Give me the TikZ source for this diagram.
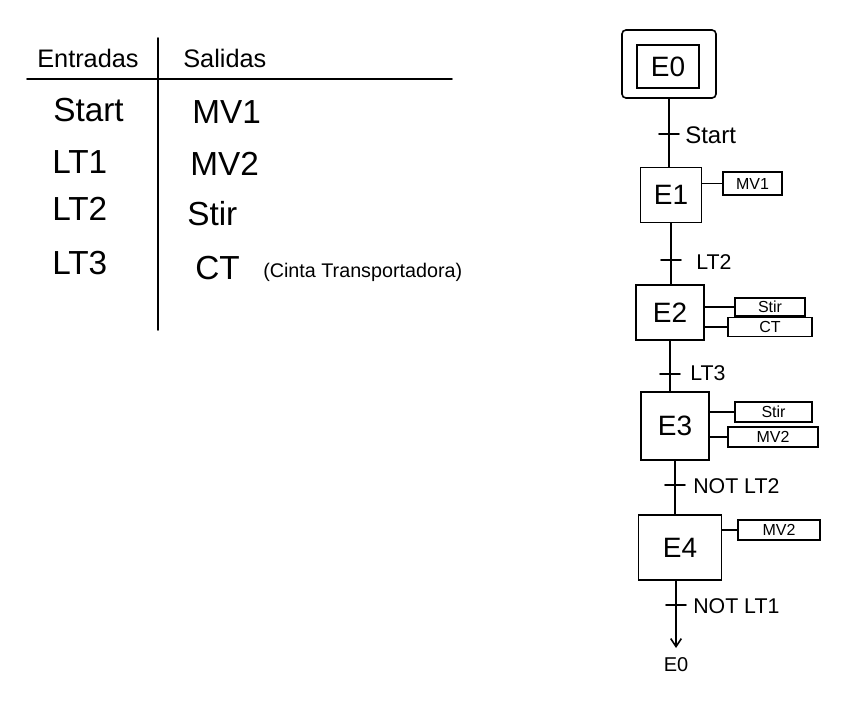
\documentclass[tikz,border=0pt]{standalone}
\usepackage{fontspec}
\setmainfont{Liberation Sans}
\usetikzlibrary{arrows.meta}
\begin{document}
\begin{tikzpicture}[x=0.75pt,y=-0.75pt,
  ln/.style={line width=1.2pt,line cap=round,line join=round},
  hdr/.style={anchor=west,inner sep=0pt,font=\fontsize{19pt}{21pt}\selectfont},
  cell/.style={anchor=west,inner sep=0pt,font=\fontsize{25pt}{27pt}\selectfont},
  small/.style={anchor=west,inner sep=0pt,font=\fontsize{14.8pt}{16pt}\selectfont},
  stepbox/.style={draw,line width=1.2pt,inner sep=0pt,font=\fontsize{21pt}{23pt}\selectfont},
  actbox/.style={draw,line width=1.1pt,inner sep=0pt,font=\fontsize{12pt}{14pt}\selectfont},
  trlab/.style={anchor=west,inner sep=0pt,font=\fontsize{16pt}{18pt}\selectfont}]
\useasboundingbox (0,0) rectangle (848,703);
% ---------- table ----------
\coordinate (vtop) at (158,38);
\coordinate (vbot) at (158,330);
\coordinate (hl) at (27,79);
\coordinate (hr) at (452,79);
\draw[ln] (vtop) -- (vbot);
\draw[ln] (hl) -- (hr);
\node[hdr] (hin) at (37,58) {Entradas};
\node[hdr] (hout) at (183,58) {Salidas};
\node[cell] (i1) at (53,110) {Start};
\node[cell] (i2) at (52,162) {LT1};
\node[cell] (i3) at (52,209) {LT2};
\node[cell] (i4) at (52,263) {LT3};
\node[cell] (o1) at (192,112) {MV1};
\node[cell] (o2) at (190,164) {MV2};
\node[cell] (o3) at (187,214) {Stir};
\node[cell] (o4) at (195,268) {CT};
\node[small] (o4b) at (263,272) {(Cinta Transportadora)};
% ---------- GRAFCET ----------
\node[draw,line width=1.2pt,minimum width=70.5pt,minimum height=51pt,rounded corners=3pt] (E0o) at (669,64) {};
\node[stepbox,minimum width=46.5pt,minimum height=32pt] (E0) at (668,66.5) {E0};
\node[stepbox,minimum width=45.75pt,minimum height=41.25pt] (E1) at (671,195) {E1};
\node[stepbox,minimum width=51pt,minimum height=41.25pt] (E2) at (670,312.5) {E2};
\node[stepbox,minimum width=51pt,minimum height=51pt] (E3) at (675,426) {E3};
\node[stepbox,minimum width=62.25pt,minimum height=48.75pt] (E4) at (680,547.5) {E4};
% actions
\node[actbox,minimum width=44.25pt,minimum height=17.25pt] (a1) at (752.5,183.5) {MV1};
\node[actbox,minimum width=52.5pt,minimum height=13.5pt] (a2) at (770,307) {Stir};
\node[actbox,minimum width=63pt,minimum height=14.25pt] (a3) at (770,327) {CT};
\node[actbox,minimum width=57.75pt,minimum height=15pt] (a4) at (773.5,412) {Stir};
\node[actbox,minimum width=67.5pt,minimum height=15pt] (a5) at (773,437) {MV2};
\node[actbox,minimum width=61.5pt,minimum height=15pt] (a6) at (779,530) {MV2};
\draw[ln] (E1.east |- a1.west) -- (a1.west);
\draw[ln] (E2.east |- a2.west) -- (a2.west);
\draw[ln] (E2.east |- a3.west) -- (a3.west);
\draw[ln] (E3.east |- a4.west) -- (a4.west);
\draw[ln] (E3.east |- a5.west) -- (a5.west);
\draw[ln] (E4.east |- a6.west) -- (a6.west);
% links
\draw[ln] (E0o.south) -- (E0o.south |- E1.north);
\draw[ln] (E1.south) -- (E1.south |- E2.north);
\draw[ln] (E2.south) -- (E2.south |- E3.north);
\draw[ln] (E3.south) -- (E3.south |- E4.north);
\node[inner sep=0pt,font=\fontsize{15pt}{17pt}\selectfont] (end) at (676,665) {E0};
\coordinate (tip) at (676,648);
\draw[ln,-{Straight Barb[length=6pt,width=8pt]}] (E4.south -| tip) -- (tip);
% transitions
\coordinate (t1) at (669,134);
\coordinate (t2) at (671,260);
\coordinate (t3) at (670,374);
\coordinate (t4) at (675,485);
\coordinate (t5) at (676,605);
\foreach \t in {t1,t2,t3,t4,t5} \draw[ln] (\t) ++(-10,0) -- ++(20,0);
\node[trlab,font=\fontsize{18pt}{20pt}\selectfont] (l1) at (685,135) {Start};
\node[trlab] (l2) at (696,262) {LT2};
\node[trlab] (l3) at (690,373) {LT3};
\node[trlab] (l4) at (693,486) {NOT LT2};
\node[trlab] (l5) at (693,606) {NOT LT1};
\end{tikzpicture}
\end{document}
